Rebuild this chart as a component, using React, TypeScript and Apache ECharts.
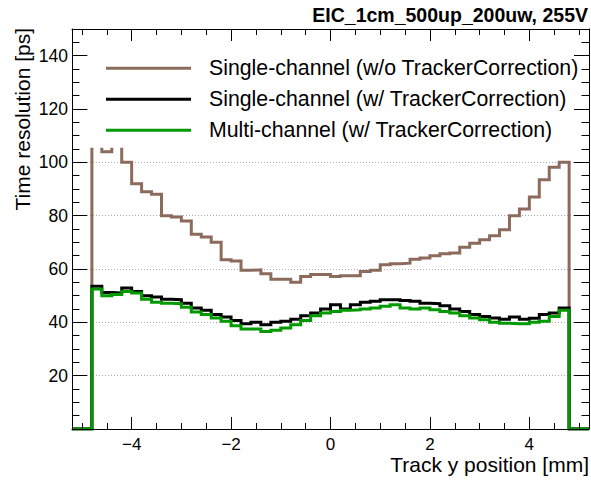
import React, { useEffect, useRef } from "react";
import * as echarts from "echarts";

// ---- data ----
const xMin = -5.2;
const xMax = 5.2;
const binWidth = 0.2;
const binLowEdges = [
  -4.8, -4.6, -4.4, -4.2, -4.0, -3.8, -3.6, -3.4, -3.2, -3.0, -2.8, -2.6,
  -2.4, -2.2, -2.0, -1.8, -1.6, -1.4, -1.2, -1.0, -0.8, -0.6, -0.4, -0.2,
  0.0, 0.2, 0.4, 0.6, 0.8, 1.0, 1.2, 1.4, 1.6, 1.8, 2.0, 2.2,
  2.4, 2.6, 2.8, 3.0, 3.2, 3.4, 3.6, 3.8, 4.0, 4.2, 4.4, 4.6,
];
const singleNoCorr = [
  110, 104, 110, 100, 92, 89, 88, 80, 79.5, 78, 73, 72,
  70, 63.5, 63, 59.5, 59.7, 58.2, 56.2, 56.2, 55, 57.2, 57.9, 57.9,
  57.2, 57.5, 57.5, 59.1, 59.5, 61.6, 62, 62.2, 63.7, 64.1, 65, 65.7,
  66, 68.2, 69.7, 71, 72.5, 74.7, 80, 82.5, 87, 93.5, 98.2, 100,
];
const singleCorr = [
  53.5, 51.2, 51, 52.9, 51.6, 50, 49.5, 48.7, 48.5, 47.2, 45.4, 44.5,
  42.9, 42, 40.7, 39.5, 40, 39.1, 40, 40.4, 41.2, 42.5, 43.5, 45,
  46.6, 45, 46.6, 47.5, 47.9, 48.5, 48.5, 48.2, 47.9, 47.2, 47, 46.2,
  45, 44.1, 42.9, 42.2, 41.6, 41.2, 42, 41.2, 41.5, 42.9, 43.5, 45.4,
];
const multiCorr = [
  52.5, 50, 50.4, 51.6, 51, 48.7, 47.5, 47.2, 47, 45.7, 43.9, 42.9,
  41.6, 40.4, 38.7, 37.5, 37.5, 36.6, 37, 37.9, 39.1, 40.7, 42.5, 43.5,
  44.1, 44.5, 44.7, 45, 45.4, 46, 46.6, 45.4, 45, 45.4, 44.7, 44.1,
  43.5, 42.5, 41.6, 41, 40, 39.7, 39.5, 39.5, 40, 40.4, 42.2, 44.5,
];
const seriesNames = [
  "Single-channel (w/o TrackerCorrection)",
  "Single-channel (w/ TrackerCorrection)",
  "Multi-channel (w/ TrackerCorrection)",
];
const seriesColors = ["#8c6b5d", "#000000", "#009900"];
const xMajorTicks = [-4, -2, 0, 2, 4];
const xMinorTicks = [-5, -4.5, -3.5, -3, -2.5, -1.5, -1, -0.5, 0.5, 1, 1.5, 2.5, 3, 3.5, 4.5, 5];
const yMajorTicks = [20, 40, 60, 80, 100, 120, 140];
const yMinorTicks = [5, 10, 15, 25, 30, 35, 45, 50, 55, 65, 70, 75, 85, 90, 95, 105, 110, 115, 125, 130, 135, 145];
const yMin = 0;
const yMax = 150;
const title = "EIC_1cm_500up_200uw, 255V";
const xTitle = "Track y position [mm]";
const yTitle = "Time resolution [ps]";

const FONT = "'Liberation Sans', Arial, Helvetica, sans-serif";

function histData(vals: number[]): [number, number][] {
  const d: [number, number][] = [[xMin, 0]];
  vals.forEach((v, i) => d.push([binLowEdges[i], v]));
  d.push([+(binLowEdges[binLowEdges.length - 1] + binWidth).toFixed(3), 0]);
  d.push([xMax, 0]);
  return d;
}

const minus = (v: number) => String(v).replace("-", "\u2212");

export default function App() {
  const ref = useRef<HTMLDivElement>(null);
  useEffect(() => {
    if (!ref.current) return;
    const chart = echarts.init(ref.current, null, { renderer: "svg" });
    const base = { min: xMin, max: xMax, type: "value" as const, gridIndex: 0 };
    const ybase = { min: yMin, max: yMax, type: "value" as const, gridIndex: 0 };
    const noLine = { show: false };
    const black = { color: "#000", width: 1 };
    const option: any = {
      animation: false,
      backgroundColor: "#fff",
      grid: { left: 72, right: 2, top: 29, bottom: 51, containLabel: false, outerBoundsMode: "none" },
      xAxis: [
        {
          ...base, position: "bottom", z: 10,
          axisLine: { show: true, onZero: false, lineStyle: black },
          axisTick: { show: true, inside: true, length: 12, customValues: xMajorTicks, lineStyle: black },
          axisLabel: { show: true, customValues: xMajorTicks, formatter: (v: number) => minus(v), fontSize: 17, fontFamily: FONT, color: "#000", margin: 7 },
          splitLine: noLine,
        },
        {
          ...base, position: "bottom", z: 10,
          axisLine: { show: false, onZero: false },
          axisTick: { show: true, inside: true, length: 6, customValues: xMinorTicks, lineStyle: black },
          axisLabel: { show: false }, splitLine: noLine,
        },
        {
          ...base, position: "top", z: 10,
          axisLine: { show: true, onZero: false, lineStyle: black },
          axisTick: { show: true, inside: true, length: 12, customValues: xMajorTicks, lineStyle: black },
          axisLabel: { show: false }, splitLine: noLine,
        },
        {
          ...base, position: "top", z: 10,
          axisLine: { show: false, onZero: false },
          axisTick: { show: true, inside: true, length: 6, customValues: xMinorTicks, lineStyle: black },
          axisLabel: { show: false }, splitLine: noLine,
        },
      ],
      yAxis: [
        {
          ...ybase, position: "left", z: 10,
          axisLine: { show: true, onZero: false, lineStyle: black },
          axisTick: { show: true, inside: true, length: 15, customValues: yMajorTicks, lineStyle: black },
          axisLabel: { show: true, customValues: yMajorTicks, fontSize: 17.5, fontFamily: FONT, color: "#000", margin: 4 },
          splitLine: noLine,
        },
        {
          ...ybase, position: "left", z: 10,
          axisLine: { show: false, onZero: false },
          axisTick: { show: true, inside: true, length: 7.5, customValues: yMinorTicks, lineStyle: black },
          axisLabel: { show: false }, splitLine: noLine,
        },
        {
          ...ybase, position: "right", z: 10,
          axisLine: { show: true, onZero: false, lineStyle: black },
          axisTick: { show: true, inside: true, length: 15, customValues: yMajorTicks, lineStyle: black },
          axisLabel: { show: false }, splitLine: noLine,
        },
        {
          ...ybase, position: "right", z: 10,
          axisLine: { show: false, onZero: false },
          axisTick: { show: true, inside: true, length: 7.5, customValues: yMinorTicks, lineStyle: black },
          axisLabel: { show: false }, splitLine: noLine,
        },
        {
          ...ybase, position: "left", z: 0, interval: 20,
          axisLine: { show: false }, axisTick: { show: false }, axisLabel: { show: false },
          splitLine: { show: true, lineStyle: { color: "#a8a8a8", width: 1, type: [1, 2] } },
        },
      ],
      legend: {
        orient: "vertical",
        left: 88,
        top: 40,
        z: 4,
        backgroundColor: "#fff",
        padding: [16.3, 8, 5.4, 18],
        icon: "rect",
        itemWidth: 85,
        itemHeight: 3,
        itemGap: 7,
        selectedMode: false,
        textStyle: { fontSize: 21.3, fontFamily: FONT, color: "#000", lineHeight: 24, padding: [0, 0, 0, 13] },
        data: seriesNames,
      },
      graphic: [
        { type: "text", x: 588, y: 14.5, z: 20, style: { text: title, fontSize: 19.5, fontWeight: "bold", fontFamily: FONT, fill: "#000", align: "right", verticalAlign: "middle" } },
        { type: "text", x: 589, y: 464, z: 20, style: { text: xTitle, fontSize: 21, fontFamily: FONT, fill: "#000", align: "right", verticalAlign: "middle" } },
        { type: "text", x: 22.5, y: 28, rotation: Math.PI / 2, z: 20, style: { text: yTitle, fontSize: 21, fontFamily: FONT, fill: "#000", align: "right", verticalAlign: "middle" } },
      ],
      series: [singleNoCorr, singleCorr, multiCorr].map((vals, i) => ({
        type: "line",
        name: seriesNames[i],
        data: histData(vals),
        step: "end",
        xAxisIndex: 0,
        yAxisIndex: 0,
        showSymbol: false,
        symbol: "none",
        silent: true,
        z: 2,
        lineStyle: { color: seriesColors[i], width: 3, join: "miter" },
        itemStyle: { color: seriesColors[i] },
      })),
    };
    chart.setOption(option);
    return () => chart.dispose();
  }, []);
  return (
    <div
      ref={ref}
      style={{ position: "fixed", left: 0, top: 0, width: 591, height: 480, background: "#fff" }}
    />
  );
}
